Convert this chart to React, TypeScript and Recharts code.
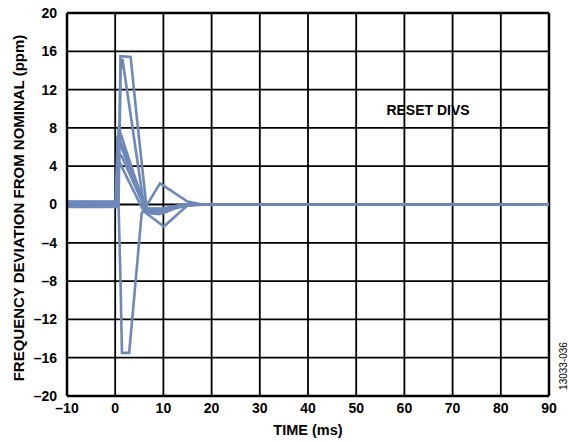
import { LineChart, Line, XAxis, YAxis, CartesianGrid, ReferenceLine } from 'recharts';

const xTicks = [-10, 0, 10, 20, 30, 40, 50, 60, 70, 80, 90];
const yTicks = [-20, -16, -12, -8, -4, 0, 4, 8, 12, 16, 20];

// traces (time in ms, deviation in ppm)
const peakHighT = [-10, -6, -2, 0.6, 0.9, 1.1, 3.2, 4.5, 6.5, 8, 11, 14, 20, 90];
const peakHighV = [0.2, 0.25, 0.2, 0.2, 8, 15.5, 15.4, 9, -0.3, -0.7, -0.6, -0.1, 0, 0];

const peakHigh2T = [-10, 0.7, 1.1, 1.5, 5.7, 6.6, 10, 13.5, 20, 90];
const peakHigh2V = [0.1, 0.1, 14, 15.2, 0.8, -0.6, -0.7, -0.1, 0, 0];

const peakLowT = [-10, -5, 0.7, 1.1, 1.4, 2.9, 5.5, 6.2, 10, 14, 20, 90];
const peakLowV = [-0.1, -0.15, -0.1, -8, -15.5, -15.5, -0.9, -0.5, -0.4, 0, 0, 0];

const midAT = [-10, 0.3, 0.7, 1.0, 6.3, 8, 11, 13.5, 18, 90];
const midAV = [0.25, 0.25, 8.2, 7.6, -0.6, -0.8, -0.6, -0.1, 0, 0];

const midBT = [-10, 0.2, 0.6, 1.2, 6.6, 10, 13, 17, 90];
const midBV = [-0.2, -0.2, 6.6, 6.1, -0.8, -0.9, -0.2, 0, 0];

const midCT = [-10, 0.4, 0.8, 1.4, 6.2, 11, 14, 90];
const midCV = [0.05, 0.05, 5.3, 5, -0.4, -0.5, 0, 0];

const midDT = [-10, 0.1, 0.5, 0.9, 6.8, 9, 12.5, 16, 90];
const midDV = [0.3, 0.3, 7.2, 6.8, -0.9, -1, -0.4, 0, 0];

const overT = [-10, 0.3, 0.8, 1.1, 6.4, 9.3, 15, 18, 90];
const overV = [0.15, 0.15, 7, 6.5, -0.2, 2.2, 0.3, 0, 0];

const underT = [-10, 0.4, 0.8, 5.9, 10.1, 15.2, 90];
const underV = [-0.25, -0.25, 4.5, -0.7, -2.3, 0, 0];

const traces = [
  [peakHighT, peakHighV],
  [peakHigh2T, peakHigh2V],
  [peakLowT, peakLowV],
  [midAT, midAV],
  [midBT, midBV],
  [midCT, midCV],
  [midDT, midDV],
  [overT, overV],
  [underT, underV],
].map(([t, v]) => t.map((x, i) => ({ t: x, v: v[i] })));

const TRACE = '#6e88b8';
const FONT = '"Liberation Sans", Arial, sans-serif';

const fmt = (n: number) => (n < 0 ? `\u2013${Math.abs(n)}` : `${n}`);

export default function App() {
  const tickStyle = { fill: '#000', fontSize: 14, fontWeight: 700, fontFamily: FONT };
  return (
    <div style={{ position: 'absolute', left: 0, top: 0, width: 569, height: 442, background: '#fff' }}>
      <LineChart width={569} height={442} margin={{ top: 13, right: 20, left: 7, bottom: 16 }}>
        <CartesianGrid stroke="#000" strokeWidth={1.8} />
        <XAxis
          type="number"
          dataKey="t"
          domain={[-10, 90]}
          ticks={xTicks}
          tickFormatter={fmt}
          allowDataOverflow
          height={30}
          tickLine={false}
          tickSize={0}
          tickMargin={7}
          axisLine={{ stroke: '#000', strokeWidth: 2.5 }}
          tick={tickStyle}
        />
        <YAxis
          type="number"
          dataKey="v"
          domain={[-20, 20]}
          ticks={yTicks}
          tickFormatter={fmt}
          allowDataOverflow
          width={60}
          tickLine={false}
          tickSize={0}
          tickMargin={10}
          axisLine={{ stroke: '#000', strokeWidth: 2.5 }}
          tick={tickStyle}
        />
        <ReferenceLine y={20} stroke="#000" strokeWidth={2.5} />
        <ReferenceLine x={90} stroke="#000" strokeWidth={2.5} />
        {traces.map((d, i) => (
          <Line
            key={i}
            data={d}
            dataKey="v"
            type="linear"
            stroke={TRACE}
            strokeWidth={2.6}
            dot={false}
            isAnimationActive={false}
          />
        ))}
      </LineChart>
      <svg
        width={569}
        height={442}
        style={{ position: 'absolute', left: 0, top: 0, pointerEvents: 'none' }}
        fontFamily={FONT}
      >
        <text x={18} y={208} transform="rotate(-90 18 208)" textAnchor="middle" dominantBaseline="central" fontSize={15} fontWeight={700}>
          FREQUENCY DEVIATION FROM NOMINAL (ppm)
        </text>
        <text x={308} y={435} textAnchor="middle" fontSize={14.5} fontWeight={700}>
          TIME (ms)
        </text>
        <text x={428} y={115} textAnchor="middle" fontSize={14} fontWeight={700}>
          RESET DIVS
        </text>
        <text x={567} y={366} transform="rotate(-90 567 366)" textAnchor="middle" fontSize={10}>
          13033-036
        </text>
      </svg>
    </div>
  );
}
